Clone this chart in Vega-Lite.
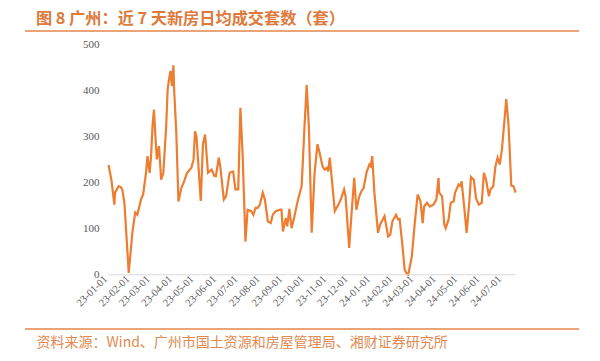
{
 "$schema": "https://vega.github.io/schema/vega-lite/v6.json",
 "width": 554, "height": 298,
 "autosize": {"type": "none"},
 "padding": {"left": 25, "top": 31, "right": 21, "bottom": 32},
 "background": "white",
 "config": {"view": {"stroke": null}},
 "title": {"text": "图 8 广州：近 7 天新房日均成交套数（套）", "anchor": "start", "frame": "group", "dx": 11, "dy": 17, "offset": 12, "baseline": "middle", "font": "Noto Sans CJK SC", "fontSize": 16.2, "fontWeight": "bold", "color": "#DD7A3C"},
 "layer": [
  {"data": {"values": [
   {"d":"2023-01-01","v":238},{"d":"2023-01-05","v":205},{"d":"2023-01-09","v":152},{"d":"2023-01-10","v":178},{"d":"2023-01-15","v":192},{"d":"2023-01-18","v":190},{"d":"2023-01-20","v":185},{"d":"2023-01-23","v":156},{"d":"2023-01-26","v":80},{"d":"2023-01-29","v":4},
   {"d":"2023-02-03","v":91},{"d":"2023-02-07","v":135},{"d":"2023-02-10","v":130},{"d":"2023-02-15","v":163},{"d":"2023-02-18","v":174},{"d":"2023-02-22","v":221},{"d":"2023-02-24","v":257},{"d":"2023-02-27","v":221},
   {"d":"2023-03-01","v":257},{"d":"2023-03-03","v":322},{"d":"2023-03-05","v":358},{"d":"2023-03-07","v":300},{"d":"2023-03-09","v":250},{"d":"2023-03-12","v":279},{"d":"2023-03-15","v":206},{"d":"2023-03-18","v":221},{"d":"2023-03-22","v":322},{"d":"2023-03-24","v":402},{"d":"2023-03-26","v":424},{"d":"2023-03-28","v":442},{"d":"2023-03-30","v":409},
   {"d":"2023-04-01","v":454},{"d":"2023-04-02","v":402},{"d":"2023-04-05","v":308},{"d":"2023-04-08","v":159},{"d":"2023-04-12","v":188},{"d":"2023-04-16","v":203},{"d":"2023-04-20","v":221},{"d":"2023-04-26","v":232},{"d":"2023-04-29","v":250},
   {"d":"2023-05-01","v":311},{"d":"2023-05-03","v":300},{"d":"2023-05-09","v":160},{"d":"2023-05-12","v":283},{"d":"2023-05-15","v":304},{"d":"2023-05-19","v":221},{"d":"2023-05-24","v":228},{"d":"2023-05-28","v":214},{"d":"2023-05-30","v":214},
   {"d":"2023-06-03","v":254},{"d":"2023-06-05","v":235},{"d":"2023-06-10","v":163},{"d":"2023-06-13","v":170},{"d":"2023-06-18","v":221},{"d":"2023-06-23","v":224},{"d":"2023-06-26","v":185},{"d":"2023-06-30","v":185},
   {"d":"2023-07-03","v":362},{"d":"2023-07-06","v":264},{"d":"2023-07-10","v":72},{"d":"2023-07-13","v":141},{"d":"2023-07-18","v":138},{"d":"2023-07-21","v":130},{"d":"2023-07-24","v":145},{"d":"2023-07-27","v":145},{"d":"2023-07-30","v":152},
   {"d":"2023-08-03","v":178},{"d":"2023-08-06","v":163},{"d":"2023-08-10","v":116},{"d":"2023-08-14","v":112},{"d":"2023-08-17","v":130},{"d":"2023-08-21","v":138},{"d":"2023-08-27","v":141},{"d":"2023-08-29","v":141},{"d":"2023-08-31","v":94},
   {"d":"2023-09-04","v":123},{"d":"2023-09-06","v":105},{"d":"2023-09-09","v":143},{"d":"2023-09-12","v":101},{"d":"2023-09-16","v":127},{"d":"2023-09-21","v":163},{"d":"2023-09-26","v":192},{"d":"2023-09-30","v":322},
   {"d":"2023-10-03","v":411},{"d":"2023-10-06","v":322},{"d":"2023-10-10","v":91},{"d":"2023-10-14","v":221},{"d":"2023-10-18","v":283},{"d":"2023-10-21","v":264},{"d":"2023-10-25","v":235},{"d":"2023-10-28","v":228},{"d":"2023-10-31","v":232},
   {"d":"2023-11-02","v":224},{"d":"2023-11-04","v":254},{"d":"2023-11-07","v":206},{"d":"2023-11-11","v":138},{"d":"2023-11-16","v":152},{"d":"2023-11-20","v":166},{"d":"2023-11-24","v":185},{"d":"2023-11-26","v":170},
   {"d":"2023-12-01","v":58},{"d":"2023-12-04","v":127},{"d":"2023-12-08","v":210},{"d":"2023-12-11","v":141},{"d":"2023-12-15","v":170},{"d":"2023-12-18","v":181},{"d":"2023-12-21","v":188},{"d":"2023-12-25","v":221},{"d":"2023-12-29","v":239},{"d":"2023-12-31","v":235},
   {"d":"2024-01-02","v":257},{"d":"2024-01-05","v":178},{"d":"2024-01-10","v":91},{"d":"2024-01-13","v":109},{"d":"2024-01-19","v":127},{"d":"2024-01-24","v":83},{"d":"2024-01-27","v":87},{"d":"2024-01-30","v":116},
   {"d":"2024-02-04","v":130},{"d":"2024-02-07","v":120},{"d":"2024-02-09","v":121},{"d":"2024-02-13","v":62},{"d":"2024-02-16","v":11},{"d":"2024-02-19","v":2},{"d":"2024-02-21","v":0},{"d":"2024-02-26","v":40},
   {"d":"2024-03-01","v":112},{"d":"2024-03-05","v":174},{"d":"2024-03-09","v":159},{"d":"2024-03-12","v":112},{"d":"2024-03-14","v":148},{"d":"2024-03-18","v":156},{"d":"2024-03-22","v":148},{"d":"2024-03-27","v":152},{"d":"2024-03-31","v":163},
   {"d":"2024-04-03","v":210},{"d":"2024-04-04","v":178},{"d":"2024-04-08","v":170},{"d":"2024-04-11","v":109},{"d":"2024-04-13","v":101},{"d":"2024-04-17","v":120},{"d":"2024-04-20","v":156},{"d":"2024-04-24","v":159},{"d":"2024-04-26","v":178},
   {"d":"2024-05-01","v":196},{"d":"2024-05-04","v":192},{"d":"2024-05-05","v":203},{"d":"2024-05-09","v":141},{"d":"2024-05-12","v":91},{"d":"2024-05-16","v":163},{"d":"2024-05-18","v":212},{"d":"2024-05-22","v":206},{"d":"2024-05-25","v":166},{"d":"2024-05-29","v":152},
   {"d":"2024-06-02","v":156},{"d":"2024-06-05","v":221},{"d":"2024-06-08","v":206},{"d":"2024-06-12","v":170},{"d":"2024-06-14","v":185},{"d":"2024-06-18","v":192},{"d":"2024-06-21","v":235},{"d":"2024-06-24","v":254},{"d":"2024-06-27","v":239},{"d":"2024-06-30","v":271},
   {"d":"2024-07-04","v":343},{"d":"2024-07-06","v":381},{"d":"2024-07-09","v":329},{"d":"2024-07-11","v":264},{"d":"2024-07-13","v":193},{"d":"2024-07-16","v":192},{"d":"2024-07-19","v":178}
  ]},
   "mark": {"type": "line", "color": "#ED7D31", "strokeWidth": 2.2},
   "encoding": {
    "x": {"field": "d", "type": "temporal",
     "scale": {"type": "utc", "domain": [{"year": 2022, "month": 9, "date": 7, "utc": true}, {"year": 2024, "month": 10, "date": 15, "utc": true}]},
     "axis": {"orient": "bottom", "offset": -54, "labels": false, "ticks": false, "domain": false, "grid": false,
      "title": "资料来源：Wind、广州市国土资源和房屋管理局、湘财证券研究所",
      "titleFont": "Noto Sans CJK SC", "titleFontSize": 14, "titleFontWeight": "normal", "titleColor": "#E08A50",
      "titleAnchor": "start", "titleAlign": "left", "titleX": 11, "titleY": 67, "titleBaseline": "middle"}},
    "y": {"field": "v", "type": "quantitative",
     "scale": {"domain": [-117.5, 528.3], "nice": false, "zero": false},
     "axis": {"orient": "left", "offset": -84, "values": [0,50,100,150,200,250,300,350,400,450,500],
      "labelFont": "Liberation Serif", "labelFontSize": 11, "labelColor": "#595959", "labelPadding": 10,
      "ticks": false, "domain": false, "grid": false, "title": null}}
   }},
  {"data": {"values": [{}]}, "mark": {"type": "rule", "color": "#E4864A", "strokeWidth": 1.5},
   "encoding": {"y": {"datum": 528.3, "type": "quantitative"}}},
  {"data": {"values": [{}]}, "mark": {"type": "rule", "color": "#E4864A", "strokeWidth": 1.5},
   "encoding": {"y": {"datum": -117.5, "type": "quantitative"}}},
  {"data": {"values": [{}]}, "mark": {"type": "rule", "color": "#D9D9D9", "strokeWidth": 1},
   "encoding": {
    "x": {"datum": {"year": 2023, "month": 1, "date": 1, "utc": true}, "type": "temporal"},
    "x2": {"datum": {"year": 2024, "month": 7, "date": 19, "utc": true}},
    "y": {"datum": 0, "type": "quantitative"}}},
  {"data": {"values": [
   {"m":"2023-01-01","t":"23-01-01"},{"m":"2023-02-01","t":"23-02-01"},{"m":"2023-03-01","t":"23-03-01"},{"m":"2023-04-01","t":"23-04-01"},{"m":"2023-05-01","t":"23-05-01"},{"m":"2023-06-01","t":"23-06-01"},{"m":"2023-07-01","t":"23-07-01"},{"m":"2023-08-01","t":"23-08-01"},{"m":"2023-09-01","t":"23-09-01"},{"m":"2023-10-01","t":"23-10-01"},{"m":"2023-11-01","t":"23-11-01"},{"m":"2023-12-01","t":"23-12-01"},{"m":"2024-01-01","t":"24-01-01"},{"m":"2024-02-01","t":"24-02-01"},{"m":"2024-03-01","t":"24-03-01"},{"m":"2024-04-01","t":"24-04-01"},{"m":"2024-05-01","t":"24-05-01"},{"m":"2024-06-01","t":"24-06-01"},{"m":"2024-07-01","t":"24-07-01"}
  ]},
   "mark": {"type": "text", "angle": 315, "align": "right", "baseline": "middle", "dx": -4, "font": "Liberation Serif", "fontSize": 10.5, "color": "#595959"},
   "encoding": {
    "x": {"field": "m", "type": "temporal"},
    "y": {"datum": 0, "type": "quantitative"},
    "text": {"field": "t", "type": "nominal"}}}
 ]
}
